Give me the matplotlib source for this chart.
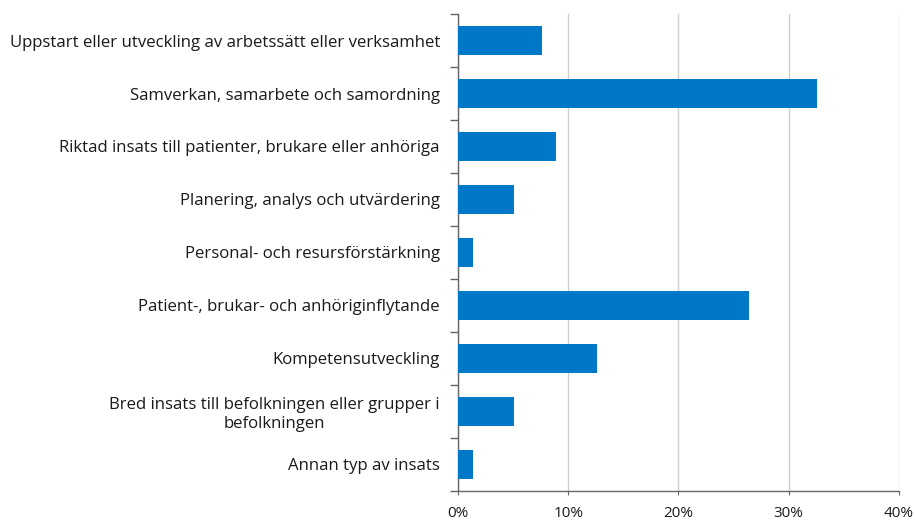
import matplotlib
matplotlib.use('Agg')
import matplotlib.pyplot as plt
import numpy as np
from matplotlib.ticker import FuncFormatter, FixedLocator

# Data
kategorier = [
    'Uppstart eller utveckling av arbetssätt eller verksamhet',
    'Samverkan, samarbete och samordning',
    'Riktad insats till patienter, brukare eller anhöriga',
    'Planering, analys och utvärdering',
    'Personal- och resursförstärkning',
    'Patient-, brukar- och anhöriginflytande',
    'Kompetensutveckling',
    'Bred insats till befolkningen eller grupper i\nbefolkningen',
    'Annan typ av insats',
]
andel = [7.6, 32.6, 8.9, 5.1, 1.4, 26.4, 12.6, 5.1, 1.4]
xticks = [0, 10, 20, 30, 40]

plt.rcParams['font.family'] = ['Open Sans', 'DejaVu Sans']

fig = plt.figure(figsize=(9.15, 5.2), dpi=100)
ax = fig.add_axes([0.5005, 0.056, 0.482, 0.917])

y = np.arange(len(kategorier))
ax.barh(y, andel, height=0.56, color='#0078c8', zorder=3)

ax.set_xlim(0, 40)
ax.set_ylim(len(kategorier) - 0.5, -0.5)
ax.set_xticks(xticks)
ax.xaxis.set_major_formatter(FuncFormatter(lambda v, p: f'{v:.0f}%'))
ax.grid(axis='x', color='#d0d0d0', linewidth=1, zorder=0)

# kategorietiketter uten tick, tick-streker mellom kategoriene
ax.set_yticks(y)
ax.set_yticklabels(kategorier, fontsize=12.1, color='#1a1a1a', multialignment='center')
ax.tick_params(axis='y', which='major', length=0, pad=13)
ax.yaxis.set_minor_locator(FixedLocator(np.arange(-0.5, len(kategorier), 1)))
ax.tick_params(axis='y', which='minor', length=6, color='#666666', width=1)

ax.tick_params(axis='x', length=3, color='#666666', labelsize=11, labelcolor='#1a1a1a', pad=8)

for s in ['top', 'right']:
    ax.spines[s].set_visible(False)
for s in ['left', 'bottom']:
    ax.spines[s].set_color('#666666')
    ax.spines[s].set_linewidth(1)

plt.savefig('out.png', dpi=100)
plt.close()
